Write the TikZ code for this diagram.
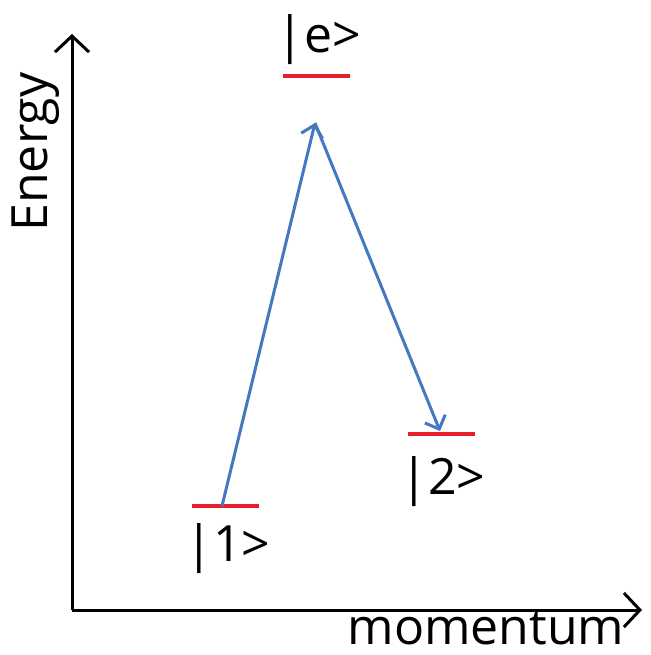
\documentclass[tikz,border=0pt]{standalone}
\usepackage{fontspec}
\setmainfont{Open Sans}
\usetikzlibrary{arrows.meta}
\definecolor{levelred}{RGB}{230,32,40}
\definecolor{transblue}{RGB}{68,120,192}
\tikzset{
    axis/.style={line width=3pt, -{Straight Barb[length=16pt, width=34pt, line width=3pt]}},
    level/.style={levelred, line width=4pt},
    trans/.style={transblue, line width=3pt, -{Straight Barb[length=11pt, width=22pt, line width=3pt]}},
    lab/.style={font=\fontsize{50}{58}\selectfont, inner sep=0pt}
}
\begin{document}
\begin{tikzpicture}[x=1pt, y=-1pt]
    \useasboundingbox (0,0) rectangle (650,655);
    % Achsen
    \coordinate (O) at (72,610);
    \coordinate (Etop) at (72,34);
    \coordinate (Pend) at (642,610);
    \draw[axis] (O) -- (Etop);
    \draw[axis] (O) -- (Pend);
    \node[lab, rotate=90] (energy) at (36,152) {Energy};
    \node[lab, anchor=base] (momentum) at (486,644) {momentum};

    % Niveaus
    \coordinate (e1) at (283,76);  \coordinate (e2) at (350,76);
    \coordinate (a1) at (192,506); \coordinate (a2) at (259,506);
    \coordinate (b1) at (408,434); \coordinate (b2) at (475,434);
    \draw[level] (e1) -- (e2);
    \draw[level] (a1) -- (a2);
    \draw[level] (b1) -- (b2);
    \node[lab] (ke) at (319,40) {|e>};
    \node[lab] (k1) at (228,549) {|1>};
    \node[lab] (k2) at (443,482) {|2>};

    % Übergänge
    \coordinate (start) at (222,506);
    \coordinate (peak) at (315,123);
    \coordinate (stop) at (440,431);
    \draw[trans] (start) -- (peak);
    \draw[trans] (peak) -- (stop);
\end{tikzpicture}
\end{document}
